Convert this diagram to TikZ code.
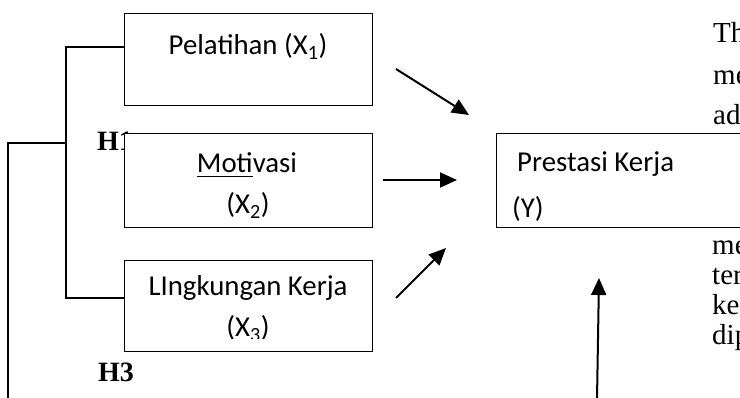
\documentclass[tikz,border=0pt]{standalone}
\usepackage{fontspec}
\setmainfont{Liberation Serif}
\newfontfamily\calfont{Carlito}
\usetikzlibrary{arrows.meta}
\newcommand{\lowul}[1]{\setbox0\hbox{#1}\rlap{\rule[-4pt]{\wd0}{1.2pt}}\box0}
\begin{document}
\begin{tikzpicture}[x=1pt,y=-1pt,
  box/.style={draw, line width=1.3pt, fill=white, inner sep=0pt, anchor=north west},
  conn/.style={line width=1.3pt},
  arr/.style={line width=2pt, -{Triangle[length=17pt,width=15pt]}},
  lbl/.style={font=\calfont\fontsize{28.8}{30}\selectfont, inner sep=0pt, anchor=base},
  lblw/.style={font=\calfont\fontsize{28.8}{30}\selectfont, inner sep=0pt, anchor=base west},
  side/.style={font=\fontsize{29}{30}\selectfont, inner sep=0pt, anchor=base west},
  hyp/.style={font=\bfseries\fontsize{28}{30}\selectfont, inner sep=0pt, anchor=base west}]
\useasboundingbox (0,0) rectangle (740,398);
\clip (0,0) rectangle (740,398);

% hypothesis labels
\node[hyp] (h1) at (97,151) {H1};
\node[hyp] (h3) at (98,382) {H3};

% boxes
\node[box, minimum width=248pt, minimum height=92pt] (x1) at (124,13) {};
\node[box, minimum width=248pt, minimum height=94pt] (x2) at (124,133) {};
\node[box, minimum width=248pt, minimum height=91pt] (x3) at (124,260) {};
\node[box, minimum width=270pt, minimum height=94pt] (y) at (496,133) {};

% box texts
\node[lbl] (t1) at (248,55) {Pelatihan (X\textsubscript{1})};
\node[lbl] (t2) at (247,173) {\lowul{Moti}vasi};
\node[lbl] (t2b) at (248,214) {(X\textsubscript{2})};
\node[lbl] (t3) at (248,296) {LIngkungan Kerja};
\begin{scope}
\clip (124,260) rectangle (372,339);
\node[lbl] (t3b) at (248,337) {(X\textsubscript{3})};
\end{scope}
\node[lblw] (ty) at (517,172) {Prestasi Kerja};
\node[lblw] (tyb) at (512,218) {(Y)};

% bracket connectors
\coordinate (j1) at (x1.west |- 0,47);
\coordinate (j3) at (x3.west |- 0,298);
\coordinate (v1) at (66,47);
\coordinate (v3) at (66,298);
\coordinate (v2) at (66,143);
\coordinate (o1) at (8,143);
\coordinate (o2) at (8,400);
\draw[conn] (j1) -- (v1) -- (v3) -- (j3);
\draw[conn] (v2) -- (o1) -- (o2);

% arrows
\coordinate (a1s) at (396,69);  \coordinate (a1e) at (469,115);
\coordinate (a2s) at (383,180); \coordinate (a2e) at (457,180);
\coordinate (a3s) at (396,298); \coordinate (a3e) at (446,248);
\coordinate (a4s) at (597,400); \coordinate (a4e) at (599,278);
\draw[arr] (a1s) -- (a1e);
\draw[arr] (a2s) -- (a2e);
\draw[arr] (a3s) -- (a3e);
\draw[arr] (a4s) -- (a4e);

% side text (cut off at right edge, as in the reference)
\node[side] (s1) at (713,43) {Th};
\node[side] (s2) at (713,85) {me};
\node[side] (s3) at (713,125) {ad};
\node[side] (s4) at (712,255) {me};
\node[side] (s5) at (712,285) {ter};
\node[side] (s6) at (712,315) {ke};
\node[side] (s7) at (712,345) {dip};
\end{tikzpicture}
\end{document}
